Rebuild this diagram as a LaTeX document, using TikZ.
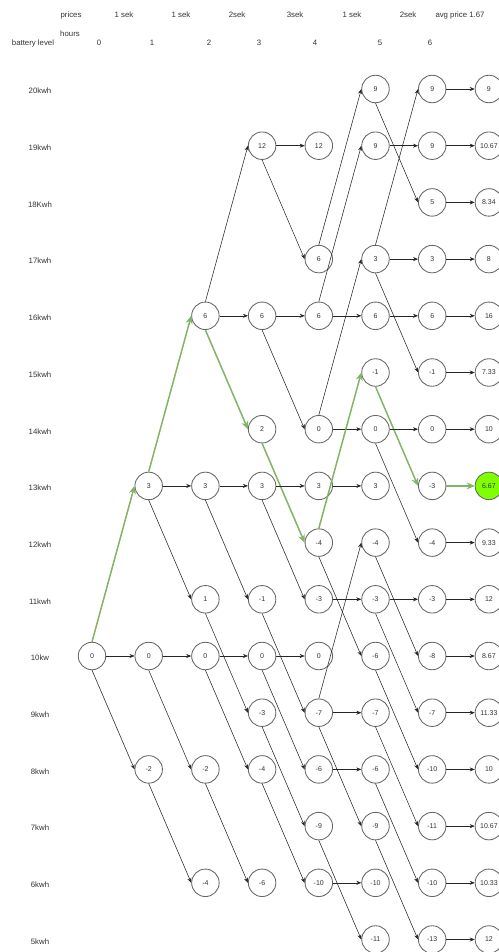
\documentclass[tikz,border=0pt]{standalone}
\usepackage{fontspec}
\setmainfont{Liberation Sans}
\usetikzlibrary{arrows.meta}
\definecolor{gline}{HTML}{82B366}
\definecolor{gfill}{HTML}{80FF00}
\definecolor{nstroke}{HTML}{666666}
\definecolor{tcol}{HTML}{333333}
\newcommand\Nd[3]{\node[nd] (c#1k#2) at ({92+56.7*#1},{89+56.7*(20-#2)}) {#3};}
\newcommand\Eh[3][ed]{\draw[#1] (#2.east) -- (#3.west);}
\newcommand\Eu[3][ed]{\draw[#1] (#2.north) -- (#3.west);}
\newcommand\Ed[3][ed]{\draw[#1] (#2.south) -- (#3.west);}
\newcommand\Rl[2]{\node[lbl] (r#1) at (40,{91+56.7*(20-#1)}) {#2};}
\begin{document}
\begin{tikzpicture}[x=1pt,y=-1pt,
 nd/.style={circle,draw=nstroke,fill=white,line width=0.85pt,minimum size=27.5pt,inner sep=0pt,font=\fontsize{7}{8}\selectfont,text=tcol},
 ed/.style={draw=black!85,line width=0.55pt,-{Stealth[length=5pt,width=4pt]}},
 gr/.style={draw=gline,line width=1.5pt,-{Stealth[length=8pt,width=7pt]}},
 lbl/.style={font=\fontsize{7.8}{9}\selectfont,text=tcol,inner sep=0pt}]
\useasboundingbox (0,0) rectangle (498,952);
% header
\node[lbl] (hp) at (71,15) {prices};
\node[lbl] (p1) at (124,15) {1 sek};
\node[lbl] (p2) at (181,15) {1 sek};
\node[lbl] (p3) at (237,15) {2sek};
\node[lbl] (p4) at (295,15) {3sek};
\node[lbl] (p5) at (352,15) {1 sek};
\node[lbl] (p6) at (408,15) {2sek};
\node[lbl] (pa) at (460,15) {avg price 1.67};
\node[lbl] (hh) at (70,34) {hours};
\node[lbl] (bl) at (33,43) {battery level};
\node[lbl] (h0) at (99,43) {0};
\node[lbl] (h1) at (152,43) {1};
\node[lbl] (h2) at (209,43) {2};
\node[lbl] (h3) at (259,43) {3};
\node[lbl] (h4) at (315,43) {4};
\node[lbl] (h5) at (380,43) {5};
\node[lbl] (h6) at (430,43) {6};
% row labels
\Rl{20}{20kwh}\Rl{19}{19kwh}\Rl{18}{18Kwh}\Rl{17}{17kwh}\Rl{16}{16kwh}
\Rl{15}{15kwh}\Rl{14}{14kwh}\Rl{13}{13kwh}\Rl{12}{12kwh}\Rl{11}{11kwh}
\Rl{10}{10kw}\Rl{9}{9kwh}\Rl{8}{8kwh}\Rl{7}{7kwh}\Rl{6}{6kwh}\Rl{5}{5kwh}
% nodes
\Nd{0}{10}{0}
\Nd{1}{13}{3}\Nd{1}{10}{0}\Nd{1}{8}{-2}
\Nd{2}{16}{6}\Nd{2}{13}{3}\Nd{2}{11}{1}\Nd{2}{10}{0}\Nd{2}{8}{-2}\Nd{2}{6}{-4}
\Nd{3}{19}{12}\Nd{3}{16}{6}\Nd{3}{14}{2}\Nd{3}{13}{3}\Nd{3}{11}{-1}\Nd{3}{10}{0}\Nd{3}{9}{-3}\Nd{3}{8}{-4}\Nd{3}{6}{-6}
\Nd{4}{19}{12}\Nd{4}{17}{6}\Nd{4}{16}{6}\Nd{4}{14}{0}\Nd{4}{13}{3}\Nd{4}{12}{-4}\Nd{4}{11}{-3}\Nd{4}{10}{0}\Nd{4}{9}{-7}\Nd{4}{8}{-6}\Nd{4}{7}{-9}\Nd{4}{6}{-10}
\Nd{5}{20}{9}\Nd{5}{19}{9}\Nd{5}{17}{3}\Nd{5}{16}{6}\Nd{5}{15}{-1}\Nd{5}{14}{0}\Nd{5}{13}{3}\Nd{5}{12}{-4}\Nd{5}{11}{-3}\Nd{5}{10}{-6}\Nd{5}{9}{-7}\Nd{5}{8}{-6}\Nd{5}{7}{-9}\Nd{5}{6}{-10}\Nd{5}{5}{-11}
\Nd{6}{20}{9}\Nd{6}{19}{9}\Nd{6}{18}{5}\Nd{6}{17}{3}\Nd{6}{16}{6}\Nd{6}{15}{-1}\Nd{6}{14}{0}\Nd{6}{13}{-3}\Nd{6}{12}{-4}\Nd{6}{11}{-3}\Nd{6}{10}{-8}\Nd{6}{9}{-7}\Nd{6}{8}{-10}\Nd{6}{7}{-11}\Nd{6}{6}{-10}\Nd{6}{5}{-13}
\Nd{7}{20}{9}\Nd{7}{19}{10.67}\Nd{7}{18}{8.34}\Nd{7}{17}{8}\Nd{7}{16}{16}\Nd{7}{15}{7.33}\Nd{7}{14}{10}
\node[nd,fill=gfill] (c7k13) at ({92+56.7*7},{89+56.7*7}) {6.67};
\Nd{7}{12}{9.33}\Nd{7}{11}{12}\Nd{7}{10}{8.67}\Nd{7}{9}{11.33}\Nd{7}{8}{10}\Nd{7}{7}{10.67}\Nd{7}{6}{10.33}\Nd{7}{5}{12}
% edges col0 -> col1
\Eh{c0k10}{c1k10}\Eu[gr]{c0k10}{c1k13}\Ed{c0k10}{c1k8}
% col1 -> col2
\Eu[gr]{c1k13}{c2k16}\Eh{c1k13}{c2k13}\Ed{c1k13}{c2k11}
\Eh{c1k10}{c2k10}\Ed{c1k10}{c2k8}\Ed{c1k8}{c2k6}
% col2 -> col3
\Eu{c2k16}{c3k19}\Eh{c2k16}{c3k16}\Ed[gr]{c2k16}{c3k14}
\Eh{c2k13}{c3k13}\Ed{c2k13}{c3k11}\Ed{c2k11}{c3k9}
\Eh{c2k10}{c3k10}\Ed{c2k10}{c3k8}\Ed{c2k8}{c3k6}
% col3 -> col4
\Eh{c3k19}{c4k19}\Ed{c3k19}{c4k17}\Eh{c3k16}{c4k16}\Ed{c3k16}{c4k14}
\Ed[gr]{c3k14}{c4k12}\Eh{c3k13}{c4k13}\Ed{c3k13}{c4k11}\Ed{c3k11}{c4k9}
\Eh{c3k10}{c4k10}\Ed{c3k10}{c4k8}\Ed{c3k9}{c4k7}\Ed{c3k8}{c4k6}
% col4 -> col5
\Eu{c4k17}{c5k20}\Eu{c4k16}{c5k19}\Eh{c4k16}{c5k16}\Eu{c4k14}{c5k17}
\Eh{c4k14}{c5k14}\Eh{c4k13}{c5k13}\Eu[gr]{c4k12}{c5k15}\Ed{c4k12}{c5k10}
\Eh{c4k11}{c5k11}\Eu{c4k9}{c5k12}\Eh{c4k9}{c5k9}\Ed{c4k9}{c5k7}
\Eh{c4k8}{c5k8}\Ed{c4k7}{c5k5}\Eh{c4k6}{c5k6}
% col5 -> col6
\Ed{c5k20}{c6k18}\Eh{c5k19}{c6k19}\Eu{c5k17}{c6k20}\Eh{c5k17}{c6k17}
\Ed{c5k17}{c6k15}\Eh{c5k16}{c6k16}\Ed[gr]{c5k15}{c6k13}\Eh{c5k14}{c6k14}
\Ed{c5k14}{c6k12}\Ed{c5k12}{c6k10}\Eh{c5k11}{c6k11}\Ed{c5k11}{c6k9}
\Ed{c5k10}{c6k8}\Ed{c5k9}{c6k7}\Ed{c5k8}{c6k6}\Ed{c5k7}{c6k5}
% col6 -> col7
\Eh{c6k20}{c7k20}\Eh{c6k19}{c7k19}\Eh{c6k18}{c7k18}\Eh{c6k17}{c7k17}
\Eh{c6k16}{c7k16}\Eh{c6k15}{c7k15}\Eh{c6k14}{c7k14}\Eh[gr]{c6k13}{c7k13}
\Eh{c6k12}{c7k12}\Eh{c6k11}{c7k11}\Eh{c6k10}{c7k10}\Eh{c6k9}{c7k9}
\Eh{c6k8}{c7k8}\Eh{c6k7}{c7k7}\Eh{c6k6}{c7k6}\Eh{c6k5}{c7k5}
\end{tikzpicture}
\end{document}
